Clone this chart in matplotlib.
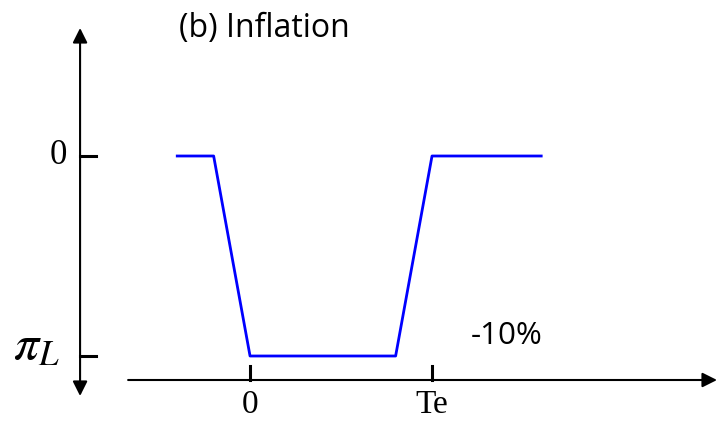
import matplotlib
matplotlib.use("Agg")
import matplotlib.pyplot as plt

# time path of inflation (Te = 5 periods after the start at 0)
t = [-2, -1, 0, 4, 5, 8]
inflation = [0, 0, -10, -10, 0, 0]
x_ticks = [0, 5]
x_tick_labels = ["0", "Te"]
y_ticks = [0, -10]
y_tick_labels = ["0", r"$\pi_L$"]

plt.rcParams["mathtext.fontset"] = "stix"

fig = plt.figure(figsize=(7.17, 4.21), dpi=100)
ax = fig.add_axes([0, 0, 1, 1])
ax.set_xlim(-6.87, 12.83)
ax.set_ylim(-13.25, 7.8)
ax.axis("off")

# axes drawn by hand
y_axis_x = -4.67
x_axis_y = -11.2
ax.annotate("", xy=(y_axis_x, 6.4), xytext=(y_axis_x, -12.0),
            arrowprops=dict(arrowstyle="<|-|>", color="black", lw=1.5,
                            mutation_scale=22, shrinkA=0, shrinkB=0))
ax.annotate("", xy=(12.83, x_axis_y), xytext=(-3.35, x_axis_y),
            arrowprops=dict(arrowstyle="-|>", color="black", lw=1.5,
                            mutation_scale=22, shrinkA=0, shrinkB=0))

# ticks
for yv, lab in zip(y_ticks, y_tick_labels):
    ax.plot([y_axis_x, y_axis_x + 0.44], [yv, yv], color="black", lw=2.2)
    if lab == "0":
        ax.text(y_axis_x - 0.6, yv, lab, family="Liberation Serif", fontsize=25,
                ha="center", va="center")
    else:
        ax.text(y_axis_x - 1.2, yv + 0.55, lab, fontsize=36,
                ha="center", va="center")
for xv, lab in zip(x_ticks, x_tick_labels):
    ax.plot([xv, xv], [x_axis_y, x_axis_y + 0.7], color="black", lw=2.2)
    ax.text(xv, -12.85, lab, family="Liberation Serif", fontsize=24,
            ha="center", va="baseline")

ax.plot(t, inflation, color="#0000ff", lw=2)

ax.text(7.05, -9.0, "-10%", family="Open Sans", fontsize=22.5,
        ha="center", va="center")
ax.text(0.4, 6.35, "(b) Inflation", family="Open Sans", fontsize=23,
        ha="center", va="center")

fig.savefig("out.png", dpi=100)
